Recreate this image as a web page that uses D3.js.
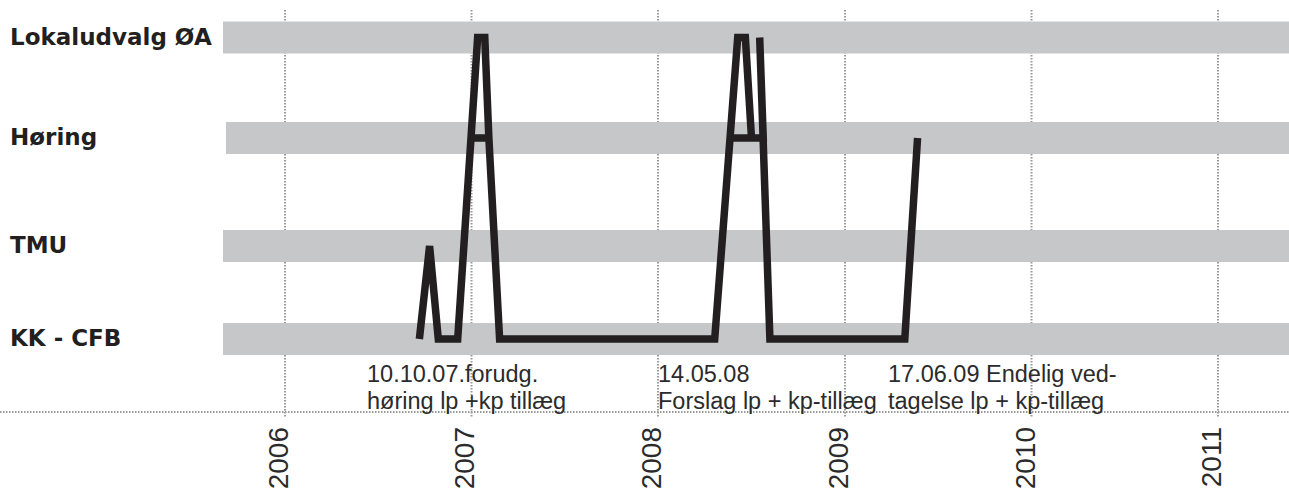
<!DOCTYPE html>
<html>
<head>
<meta charset="utf-8">
<script src="https://cdn.jsdelivr.net/npm/d3@7"></script>
<style>
  body { margin: 0; background: #fff; }
</style>
</head>
<body>
<div id="chart"></div>
<script>
// niveauer (nederst -> øverst)
const levels = ["KK - CFB", "TMU", "Høring", "Lokaludvalg ØA"];
const years = [2006, 2007, 2008, 2009, 2010, 2011];

// sagsforløbet, punkt for punkt i tegnerækkefølge
const stepDates = [
  "2006-09-21", "2006-10-11", "2006-10-28", "2006-12-05",
  "2007-01-13", "2007-01-27", "2007-02-04", "2006-12-30", "2007-02-04", "2007-02-25",
  "2008-04-21", "2008-06-05", "2008-06-20", "2008-07-02", "2008-05-22", "2008-07-25",
  "2008-07-18", "2008-08-07", "2009-04-28", "2009-05-23"
];
const stepLevels = [
  "KK - CFB", "TMU", "KK - CFB", "KK - CFB",
  "Lokaludvalg ØA", "Lokaludvalg ØA", "Høring", "Høring", "Høring", "KK - CFB",
  "KK - CFB", "Lokaludvalg ØA", "Lokaludvalg ØA", "Høring", "Høring", "Høring",
  "Lokaludvalg ØA", "KK - CFB", "KK - CFB", "Høring"
];

// noter under forløbet
const noteLine1 = ["10.10.07.forudg.", "14.05.08", "17.06.09 Endelig ved-"];
const noteLine2 = ["høring lp +kp tillæg", "Forslag lp + kp-tillæg", "tagelse lp + kp-tillæg"];

const W = 1289, H = 490;
const parse = d3.timeParse("%Y-%m-%d");
const steps = stepDates.map((d, i) => ({date: parse(d), level: stepLevels[i]}));

const svg = d3.select("#chart")
  .append("svg")
  .attr("width", W)
  .attr("height", H);

const x = d3.scaleTime()
  .domain([new Date(2006, 0, 1), new Date(2011, 0, 1)])
  .range([285, 1218]);

// båndene ligger ikke helt jævnt
const y = d3.scaleOrdinal()
  .domain(levels)
  .range([339, 246, 138, 37.5]);

const bandH = 32;
const gridColor = "#9a9a9a";

// lodrette stiplede linjer pr. år
svg.append("g")
  .selectAll("line")
  .data(years)
  .join("line")
  .attr("x1", d => x(new Date(d, 0, 1)))
  .attr("x2", d => x(new Date(d, 0, 1)))
  .attr("y1", 10)
  .attr("y2", 418)
  .attr("stroke", gridColor)
  .attr("stroke-width", 2)
  .attr("stroke-dasharray", "1.5,1.5");

// vandret stiplet linje
svg.append("line")
  .attr("x1", 0).attr("x2", W)
  .attr("y1", 412).attr("y2", 412)
  .attr("stroke", gridColor)
  .attr("stroke-width", 2)
  .attr("stroke-dasharray", "1.5,1.5");

// grå bånd
svg.append("g")
  .selectAll("rect")
  .data(levels)
  .join("rect")
  .attr("x", d => d === "Høring" ? 226 : 223)
  .attr("y", d => y(d) - bandH / 2)
  .attr("width", d => W - (d === "Høring" ? 226 : 223))
  .attr("height", bandH)
  .attr("fill", "#c6c7c9");

// niveau-navne
svg.append("g")
  .selectAll("text")
  .data(levels)
  .join("text")
  .attr("x", 10)
  .attr("y", d => y(d) + 7)
  .attr("font-family", "DejaVu Sans, sans-serif")
  .attr("font-weight", "bold")
  .attr("font-size", "23px")
  .attr("fill", "#231f20")
  .text(d => d);

// forløbet
const line = d3.line()
  .x(d => x(d.date))
  .y(d => y(d.level));

svg.append("path")
  .datum(steps)
  .attr("d", line)
  .attr("fill", "none")
  .attr("stroke", "#231f20")
  .attr("stroke-width", 7.5)
  .attr("stroke-linejoin", "miter")
  .attr("stroke-linecap", "butt");

// noter
const noteX = [367, 658, 888];
const notes = svg.append("g")
  .attr("font-family", "Liberation Sans, Arial, sans-serif")
  .attr("font-size", "23.5px")
  .attr("fill", "#2b2b2b");

notes.selectAll(".n1")
  .data(noteLine1)
  .join("text")
  .attr("class", "n1")
  .attr("x", (d, i) => noteX[i])
  .attr("y", 382)
  .text(d => d);

notes.selectAll(".n2")
  .data(noteLine2)
  .join("text")
  .attr("class", "n2")
  .attr("x", (d, i) => noteX[i])
  .attr("y", 409)
  .text(d => d);

// årstal, drejet
const axis = svg.append("g")
  .attr("transform", "translate(0,427)")
  .call(d3.axisBottom(x)
    .tickValues(years.map(d => new Date(d, 0, 1)))
    .tickFormat(d3.timeFormat("%Y"))
    .tickSize(0));

axis.select(".domain").remove();
axis.selectAll("text")
  .attr("font-family", "Liberation Sans, Arial, sans-serif")
  .attr("font-size", "28px")
  .attr("fill", "#2b2b2b")
  .attr("text-anchor", "end")
  .attr("y", 0)
  .attr("x", 0)
  .attr("dx", 0)
  .attr("dy", 0)
  .attr("transform", "translate(-7,0) rotate(-90)")
  .attr("dominant-baseline", "central");
</script>
</body>
</html>
